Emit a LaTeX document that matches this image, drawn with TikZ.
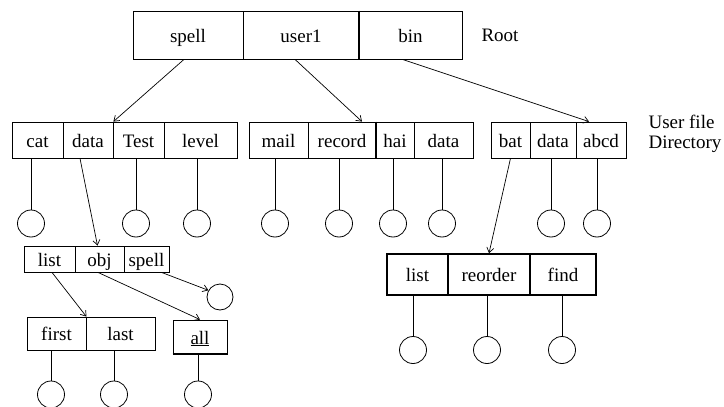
\documentclass[tikz,border=0pt]{standalone}
\usepackage{fontspec}
\setmainfont{Liberation Serif}
\usetikzlibrary{arrows.meta}
\begin{document}
\begin{tikzpicture}[x=1pt,y=-1pt,
  txt/.style={font=\fontsize{19}{20}\selectfont},
  cell/.style={draw, txt, inner sep=0pt, text height=15pt, text depth=1pt, line width=0.8pt},
  leaf/.style={draw, circle, inner sep=0pt, minimum size=27pt, line width=0.8pt},
  ptr/.style={-{Straight Barb[length=5pt,width=7pt]}, line width=0.7pt},
  stem/.style={line width=0.8pt}]
\useasboundingbox (0,0) rectangle (724,407);

% root directory
\node[cell, minimum width=110pt, minimum height=48pt] (rspell) at (188,35) {spell};
\node[cell, minimum width=116pt, minimum height=48pt] (ruser) at (301,35) {user1};
\node[cell, minimum width=103pt, minimum height=48pt] (rbin) at (410.5,35) {bin};
\draw[line width=2pt] (ruser.north east) -- (ruser.south east);
\node[txt, anchor=west] (rootlbl) at (478,35) {Root};

% user file directories
\node[cell, minimum width=51pt, minimum height=36pt] (acat) at (37.5,140) {cat};
\node[cell, minimum width=50pt, minimum height=36pt] (adata) at (88,140) {data};
\node[cell, minimum width=51pt, minimum height=36pt] (atest) at (138.5,140) {Test};
\node[cell, minimum width=73pt, minimum height=36pt] (alevel) at (200.5,140) {level};

\node[cell, minimum width=59pt, minimum height=36pt] (bmail) at (278.5,140) {mail};
\node[cell, minimum width=68pt, minimum height=36pt] (brecord) at (342,140) {record};
\node[cell, minimum width=38pt, minimum height=36pt] (bhai) at (395,140) {hai};
\node[cell, minimum width=59pt, minimum height=36pt] (bdata) at (443.5,140) {data};
\draw[line width=2pt] (brecord.north east) -- (brecord.south east);

\node[cell, minimum width=39pt, minimum height=36pt] (cbat) at (510.5,140) {bat};
\node[cell, minimum width=46pt, minimum height=36pt] (cdata) at (553,140) {data};
\node[cell, minimum width=50pt, minimum height=36pt] (cabcd) at (601,140) {abcd};

\node[txt, anchor=west, align=left] (udlbl) at (645,134) {User file\\Directory};

% files under the user directories
\node[leaf] (k1) at (31,223.5) {};
\node[leaf] (k2) at (136,223.5) {};
\node[leaf] (k3) at (197,223.5) {};
\node[leaf] (k4) at (275,223.5) {};
\node[leaf] (k5) at (339,223.5) {};
\node[leaf] (k6) at (393,223.5) {};
\node[leaf] (k7) at (442,223.5) {};
\node[leaf] (k8) at (551,223.5) {};
\node[leaf] (k9) at (597,223.5) {};
\draw[stem] (k1.north) -- (k1.north |- acat.south);
\draw[stem] (k2.north) -- (k2.north |- atest.south);
\draw[stem] (k3.north) -- (k3.north |- alevel.south);
\draw[stem] (k4.north) -- (k4.north |- bmail.south);
\draw[stem] (k5.north) -- (k5.north |- brecord.south);
\draw[stem] (k6.north) -- (k6.north |- bhai.south);
\draw[stem] (k7.north) -- (k7.north |- bdata.south);
\draw[stem] (k8.north) -- (k8.north |- cdata.south);
\draw[stem] (k9.north) -- (k9.north |- cabcd.south);

% subdirectory of data
\node[cell, minimum width=51pt, minimum height=26pt] (llist) at (49.5,259) {list};
\node[cell, minimum width=49pt, minimum height=26pt] (lobj) at (99.5,259) {obj};
\node[cell, minimum width=45pt, minimum height=26pt] (lspell) at (146.5,259) {spell};
\node[leaf, minimum size=26pt] (sc) at (220,297) {};

\node[cell, minimum width=59pt, minimum height=33pt] (ffirst) at (56.5,333.5) {first};
\node[cell, minimum width=69pt, minimum height=33pt] (flast) at (120.5,333.5) {last};
\node[cell, minimum width=54pt, minimum height=34pt] (all) at (200,337) {\underline{all}};
\draw[line width=2pt] (all.south west) -- (all.south east);

\node[leaf] (m1) at (51,394.5) {};
\node[leaf] (m2) at (114,394.5) {};
\node[leaf] (m3) at (198,394.5) {};
\draw[stem] (m1.north) -- (m1.north |- ffirst.south);
\draw[stem] (m2.north) -- (m2.north |- flast.south);
\draw[stem] (m3.north) -- (m3.north |- all.south);

% subdirectory of bat
\node[cell, line width=1.6pt, minimum width=61pt, minimum height=41pt] (glist) at (417.5,274.5) {list};
\node[cell, line width=1.6pt, minimum width=82pt, minimum height=41pt] (greorder) at (489,274.5) {reorder};
\node[cell, line width=1.6pt, minimum width=66pt, minimum height=41pt] (gfind) at (563,274.5) {find};

\node[leaf] (n1) at (413,350) {};
\node[leaf] (n2) at (487,350) {};
\node[leaf] (n3) at (562,350) {};
\draw[stem] (n1.north) -- (n1.north |- glist.south);
\draw[stem] (n2.north) -- (n2.north |- greorder.south);
\draw[stem] (n3.north) -- (n3.north |- gfind.south);

% pointers
\draw[ptr] ([xshift=-4pt]rspell.south) -- (adata.north east);
\draw[ptr] ([xshift=-6pt]ruser.south) -- ([xshift=20pt]brecord.north);
\draw[ptr] ([xshift=-8pt]rbin.south) -- ([xshift=-12pt]cabcd.north);
\draw[ptr] ([xshift=-8pt]adata.south) -- ([xshift=-2pt]lobj.north);
\draw[ptr] ([xshift=2.5pt]llist.south) -- (ffirst.north east);
\draw[ptr] ([xshift=-1.5pt]lobj.south) -- (all.north);
\draw[ptr] ([xshift=15pt]lspell.south) -- (sc.150);
\draw[ptr] (cbat.south) -- (greorder.north);
\end{tikzpicture}
\end{document}
